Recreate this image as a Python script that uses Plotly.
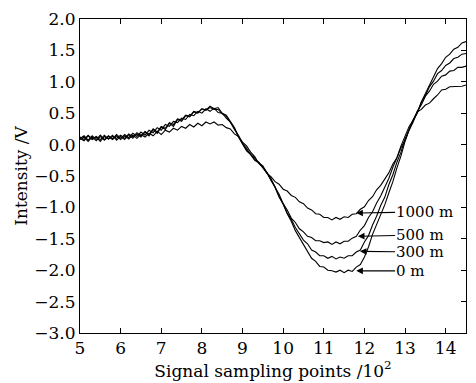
import plotly.graph_objects as go

# sampling positions (x 10^2)
x = [round(5.0 + 0.1 * i, 1) for i in range(96)]

y_0m = [0.10, 0.06, 0.14, 0.08, 0.12, 0.05, 0.13, 0.09, 0.15, 0.07,
        0.13, 0.08, 0.16, 0.10, 0.17, 0.12, 0.20, 0.14, 0.24, 0.18,
        0.28, 0.24, 0.34, 0.29, 0.40, 0.37, 0.46, 0.44, 0.52, 0.50,
        0.57, 0.55, 0.61, 0.57, 0.59, 0.50, 0.47, 0.36, 0.27, 0.13,
        0.03, -0.09, -0.15, -0.24, -0.28, -0.36, -0.44, -0.56, -0.67, -0.83,
        -0.95, -1.10, -1.22, -1.37, -1.48, -1.61, -1.70, -1.81, -1.86, -1.94,
        -1.95, -2.00, -2.01, -2.03, -2.00, -2.04, -2.00, -2.02, -1.95, -1.91,
        -1.79, -1.63, -1.43, -1.28, -1.11, -0.96, -0.77, -0.59, -0.37, -0.18,
        0.05, 0.24, 0.39, 0.51, 0.68, 0.81, 0.96, 1.07, 1.21, 1.29,
        1.39, 1.44, 1.52, 1.55, 1.62, 1.64]

y_300m = [0.12, 0.08, 0.15, 0.09, 0.13, 0.08, 0.15, 0.09, 0.13, 0.10,
          0.15, 0.10, 0.17, 0.12, 0.19, 0.14, 0.21, 0.16, 0.25, 0.20,
          0.29, 0.26, 0.35, 0.32, 0.41, 0.39, 0.47, 0.45, 0.53, 0.51,
          0.57, 0.55, 0.59, 0.56, 0.56, 0.49, 0.45, 0.35, 0.26, 0.12,
          0.02, -0.10, -0.16, -0.25, -0.29, -0.37, -0.45, -0.57, -0.68, -0.83,
          -0.94, -1.09, -1.19, -1.32, -1.41, -1.52, -1.58, -1.68, -1.71, -1.77,
          -1.77, -1.81, -1.78, -1.82, -1.79, -1.81, -1.77, -1.77, -1.71, -1.68,
          -1.55, -1.45, -1.28, -1.14, -0.97, -0.84, -0.64, -0.48, -0.28, -0.12,
          0.09, 0.23, 0.39, 0.50, 0.67, 0.78, 0.92, 1.01, 1.13, 1.18,
          1.26, 1.30, 1.37, 1.39, 1.44, 1.45]

y_500m = [0.10, 0.14, 0.07, 0.14, 0.08, 0.15, 0.08, 0.14, 0.09, 0.16,
          0.10, 0.16, 0.11, 0.18, 0.13, 0.20, 0.15, 0.23, 0.19, 0.27,
          0.23, 0.32, 0.29, 0.37, 0.35, 0.42, 0.40, 0.48, 0.46, 0.53,
          0.50, 0.57, 0.53, 0.58, 0.51, 0.50, 0.42, 0.36, 0.24, 0.15,
          0.02, -0.06, -0.16, -0.21, -0.29, -0.34, -0.45, -0.54, -0.68, -0.79,
          -0.94, -1.04, -1.17, -1.24, -1.34, -1.39, -1.46, -1.48, -1.53, -1.53,
          -1.56, -1.55, -1.59, -1.55, -1.58, -1.54, -1.54, -1.49, -1.46, -1.36,
          -1.29, -1.16, -1.07, -0.93, -0.82, -0.67, -0.54, -0.36, -0.21, -0.02,
          0.13, 0.29, 0.39, 0.53, 0.63, 0.77, 0.85, 0.96, 1.01, 1.09,
          1.11, 1.17, 1.18, 1.23, 1.23, 1.25]

y_1000m = [0.08, 0.12, 0.05, 0.12, 0.06, 0.13, 0.07, 0.13, 0.08, 0.14,
           0.08, 0.14, 0.09, 0.15, 0.10, 0.16, 0.12, 0.18, 0.14, 0.21,
           0.16, 0.23, 0.20, 0.26, 0.23, 0.29, 0.26, 0.32, 0.28, 0.34,
           0.30, 0.36, 0.33, 0.36, 0.31, 0.32, 0.27, 0.25, 0.17, 0.13,
           0.04, -0.02, -0.12, -0.19, -0.30, -0.36, -0.46, -0.51, -0.59, -0.63,
           -0.71, -0.74, -0.81, -0.84, -0.91, -0.94, -1.01, -1.04, -1.10, -1.11,
           -1.16, -1.16, -1.20, -1.16, -1.19, -1.15, -1.16, -1.11, -1.10, -1.03,
           -0.99, -0.89, -0.83, -0.72, -0.65, -0.54, -0.45, -0.31, -0.21, -0.05,
           0.07, 0.23, 0.36, 0.52, 0.56, 0.63, 0.66, 0.73, 0.79, 0.87,
           0.88, 0.92, 0.92, 0.93, 0.93, 0.95]

labels = ["1000 m", "500 m", "300 m", "0 m"]
arrow_tip_x = [11.80, 11.84, 11.89, 11.80]
arrow_tip_y = [-1.09, -1.46, -1.70, -2.01]
label_y = [-1.07, -1.44, -1.71, -2.01]
label_left_x = 12.72
label_width_px = [57, 48, 48, 29]

x_ticks = [5, 6, 7, 8, 9, 10, 11, 12, 13, 14]
y_ticks = [2.0, 1.5, 1.0, 0.5, 0.0, -0.5, -1.0, -1.5, -2.0, -2.5, -3.0]

FONT = "DejaVu Serif"
PX_PER_X = 387.0 / 9.5  # plot width in px per x unit

fig = go.Figure()
for ys in [y_0m, y_300m, y_500m, y_1000m]:
    fig.add_trace(go.Scatter(x=x, y=ys, mode="lines",
                             line=dict(color="black", width=1.1),
                             showlegend=False, hoverinfo="skip"))

# invisible trace for right-side tick axis
fig.add_trace(go.Scatter(x=[5], y=[0], yaxis="y2", mode="markers",
                         marker=dict(opacity=0), showlegend=False,
                         hoverinfo="skip"))

for lab, tx, ty, ly, w in zip(labels, arrow_tip_x, arrow_tip_y, label_y,
                              label_width_px):
    cx = label_left_x + (w / 2.0 + 2) / PX_PER_X
    fig.add_annotation(x=tx, y=ty, ax=cx, ay=ly,
                       axref="x", ayref="y", xref="x", yref="y",
                       text=lab, showarrow=True, arrowhead=2, standoff=0,
                       startstandoff=0, borderpad=0,
                       arrowsize=1.2, arrowwidth=1.1, arrowcolor="black",
                       font=dict(family=FONT, size=15, color="black"))

fig.update_layout(
    width=476, height=383,
    margin=dict(l=80, r=9, t=16, b=50),
    paper_bgcolor="white", plot_bgcolor="white",
    font=dict(family=FONT, size=17, color="black"),
    xaxis=dict(range=[5, 14.5], tickvals=x_ticks, ticks="inside", ticklen=5,
               tickcolor="black", mirror="ticks", showline=True,
               linecolor="black", linewidth=1, showgrid=False, zeroline=False,
               title=dict(text="Signal sampling points /10<sup>2</sup>",
                          standoff=2, font=dict(size=17))),
    yaxis=dict(range=[-3, 2], tickvals=y_ticks, tickformat=".1f", ticks="",
               showline=True, mirror=True, linecolor="black", linewidth=1,
               showgrid=False, zeroline=False,
               title=dict(text="Intensity /V", standoff=2,
                          font=dict(size=17))),
    yaxis2=dict(range=[-3, 2], overlaying="y", side="right",
                tickvals=y_ticks, ticks="inside", ticklen=5,
                tickcolor="black", showticklabels=False, showgrid=False,
                zeroline=False, showline=False),
)

fig.write_html("out.html",
               config={"displayModeBar": False},
               post_script="document.body.style.margin='0';"
                           "document.body.style.padding='0';")
